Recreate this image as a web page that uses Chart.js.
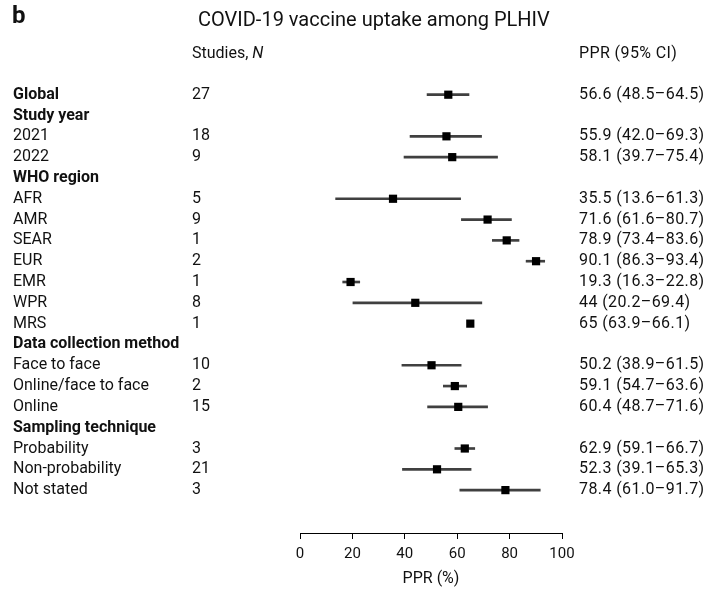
<!DOCTYPE html>
<html><head><meta charset="utf-8">
<script src="https://cdn.jsdelivr.net/npm/chart.js@4.4.1/dist/chart.umd.min.js"></script>
<style>html,body{margin:0;padding:0;background:#fff}#wrap{width:709px;height:594px;position:relative}</style>
</head><body><div id="wrap"><canvas id="c" width="709" height="594"></canvas></div>
<script>
const panelLetter = 'b';
const chartTitle = 'COVID-19 vaccine uptake among PLHIV';
const colHeaderN = 'Studies, ';
const colHeaderNItalic = 'N';
const colHeaderCI = 'PPR (95% CI)';
const axisTitle = 'PPR (%)';
const xTicks = [0, 20, 40, 60, 80, 100];

const rowLabels = ['Global','Study year','2021','2022','WHO region','AFR','AMR','SEAR','EUR','EMR','WPR','MRS','Data collection method','Face to face','Online/face to face','Online','Sampling technique','Probability','Non-probability','Not stated'];
const rowBold = [true,true,false,false,true,false,false,false,false,false,false,false,true,false,false,false,true,false,false,false];
const studiesN = [27,null,18,9,null,5,9,1,2,1,8,1,null,10,2,15,null,3,21,3];
const pprValues = [56.6,null,55.9,58.1,null,35.5,71.6,78.9,90.1,19.3,44,65,null,50.2,59.1,60.4,null,62.9,52.3,78.4];
const ciLower = [48.5,null,42.0,39.7,null,13.6,61.6,73.4,86.3,16.3,20.2,63.9,null,38.9,54.7,48.7,null,59.1,39.1,61.0];
const ciUpper = [64.5,null,69.3,75.4,null,61.3,80.7,83.6,93.4,22.8,69.4,66.1,null,61.5,63.6,71.6,null,66.7,65.3,91.7];
const ciText = ['56.6 (48.5–64.5)','','55.9 (42.0–69.3)','58.1 (39.7–75.4)','','35.5 (13.6–61.3)','71.6 (61.6–80.7)','78.9 (73.4–83.6)','90.1 (86.3–93.4)','19.3 (16.3–22.8)','44 (20.2–69.4)','65 (63.9–66.1)','','50.2 (38.9–61.5)','59.1 (54.7–63.6)','60.4 (48.7–71.6)','','62.9 (59.1–66.7)','52.3 (39.1–65.3)','78.4 (61.0–91.7)'];

const FONT = 'Roboto';
const TXT = '#111';

const ciData = [], ptData = [];
rowLabels.forEach((l, i) => {
  if (pprValues[i] !== null) {
    ciData.push({x: [ciLower[i], ciUpper[i]], y: i});
    ptData.push({x: pprValues[i], y: i});
  }
});

const textPlugin = {
  id: 'forestText',
  afterDraw(chart) {
    const ctx = chart.ctx;
    const y = chart.scales.y;
    ctx.save();
    ctx.fillStyle = TXT;
    ctx.textBaseline = 'middle';
    ctx.textAlign = 'left';
    ctx.font = `bold 24px ${FONT}`;
    ctx.fillText(panelLetter, 12, 17);
    ctx.font = `20px ${FONT}`;
    ctx.fillText(chartTitle, 198, 21);
    ctx.font = `16px ${FONT}`;
    ctx.fillText(colHeaderN, 192, 54);
    const w = ctx.measureText(colHeaderN).width;
    ctx.font = `italic 16px ${FONT}`;
    ctx.fillText(colHeaderNItalic, 192 + w, 54);
    ctx.font = `16px ${FONT}`;
    if ('letterSpacing' in ctx) ctx.letterSpacing = '0.4px';
    ctx.fillText(colHeaderCI, 579, 54);
    if ('letterSpacing' in ctx) ctx.letterSpacing = '0px';
    rowLabels.forEach((l, i) => {
      const py = y.getPixelForValue(i);
      ctx.font = (rowBold[i] ? 'bold ' : '') + `16px ${FONT}`;
      ctx.fillText(l, 13, py);
      ctx.font = `16px ${FONT}`;
      if (studiesN[i] !== null) ctx.fillText(String(studiesN[i]), 192, py);
      if (ciText[i]) {
        if ('letterSpacing' in ctx) ctx.letterSpacing = '0.4px';
        ctx.fillText(ciText[i], 579, py);
        if ('letterSpacing' in ctx) ctx.letterSpacing = '0px';
      }
    });
    ctx.restore();
  }
};

new Chart(document.getElementById('c'), {
  type: 'bar',
  data: {
    datasets: [
      {type: 'bar', indexAxis: 'y', data: ciData, backgroundColor: '#404040', barThickness: 2, borderWidth: 0, order: 2},
      {type: 'scatter', data: ptData, pointStyle: 'rect', pointRadius: 5.8, backgroundColor: '#000', borderWidth: 0, order: 1}
    ]
  },
  options: {
    responsive: false,
    animation: false,
    events: [],
    layout: {padding: {left: 300, right: 147, top: 51, bottom: 0}},
    plugins: {legend: {display: false}, tooltip: {enabled: false}},
    scales: {
      x: {
        type: 'linear', min: 0, max: 100, position: 'bottom', offset: false,
        afterBuildTicks: s => { s.ticks = xTicks.map(v => ({value: v})); },
        grid: {offset: false, drawOnChartArea: false, drawTicks: true, tickLength: 6, color: '#000', lineWidth: 1},
        border: {color: '#000', width: 1},
        ticks: {color: TXT, font: {family: FONT, size: 15}, padding: 6},
        title: {display: true, text: axisTitle, color: TXT, font: {family: FONT, size: 16}, padding: {top: 4, bottom: 5}},
        afterFit: s => { s.height = 61; }
      },
      y: {type: 'linear', min: -2.1, max: 21.06, reverse: true, display: false, offset: false, grid: {offset: false}}
    }
  },
  plugins: [textPlugin]
});
</script></body></html>
